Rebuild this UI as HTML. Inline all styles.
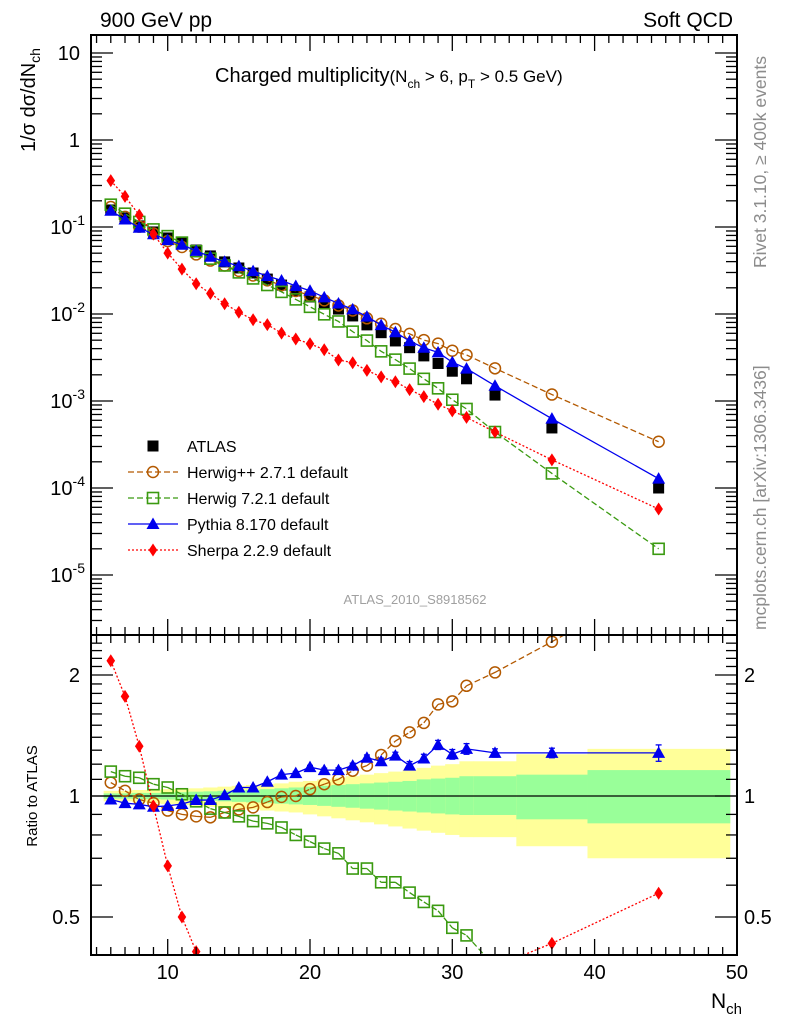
<!DOCTYPE html>
<html><head><meta charset="utf-8">
<style>
html,body{margin:0;padding:0;background:#fff;overflow:hidden;width:786px;height:1024px;}
svg{display:block;}
svg text{font-family:"Liberation Sans",sans-serif;}
</style></head>
<body>
<svg id="c" width="786" height="1024" viewBox="0 0 786 1024" xmlns="http://www.w3.org/2000/svg"></svg>
<script>
const nch=[6,7,8,9,10,11,12,13,14,15,16,17,18,19,20,21,22,23,24,25,26,27,28,29,30,31,33,37,44.5];
const binLo=[5.5,6.5,7.5,8.5,9.5,10.5,11.5,12.5,13.5,14.5,15.5,16.5,17.5,18.5,19.5,20.5,21.5,22.5,23.5,24.5,25.5,26.5,27.5,28.5,29.5,30.5,31.5,34.5,39.5];
const binHi=[6.5,7.5,8.5,9.5,10.5,11.5,12.5,13.5,14.5,15.5,16.5,17.5,18.5,19.5,20.5,21.5,22.5,23.5,24.5,25.5,26.5,27.5,28.5,29.5,30.5,31.5,34.5,39.5,49.5];
const atlas=[0.157,0.127,0.103,0.0877,0.0748,0.0655,0.0544,0.0465,0.0397,0.0338,0.0296,0.0252,0.0215,0.0184,0.0157,0.0134,0.0114,0.0095,0.0075,0.0061,0.0049,0.0041,0.0033,0.0027,0.0022,0.0018,0.00117,0.00049,0.0001];
const rHerwigPP=[1.08,1.03,0.98,0.96,0.92,0.90,0.89,0.885,0.91,0.926,0.937,0.966,0.995,1.0,1.04,1.07,1.10,1.156,1.19,1.265,1.37,1.44,1.52,1.69,1.72,1.88,2.03,2.42,3.4];
const rHerwig7=[1.15,1.12,1.11,1.07,1.05,1.01,0.97,0.93,0.91,0.89,0.866,0.855,0.835,0.80,0.77,0.74,0.72,0.66,0.66,0.61,0.61,0.575,0.545,0.518,0.47,0.45,0.376,0.30,0.2];
const rPythia=[0.98,0.96,0.953,0.94,0.945,0.955,0.977,0.977,1.005,1.05,1.05,1.085,1.13,1.14,1.18,1.16,1.16,1.19,1.245,1.22,1.26,1.19,1.24,1.34,1.27,1.31,1.28,1.28,1.28];
const rPythiaErr=[0.005,0.005,0.005,0.005,0.005,0.005,0.006,0.006,0.007,0.008,0.008,0.009,0.01,0.011,0.012,0.013,0.015,0.017,0.02,0.022,0.025,0.028,0.03,0.035,0.035,0.04,0.03,0.035,0.06];
const rSherpa=[2.17,1.77,1.33,0.944,0.67,0.50,0.41,0.37,0.33,0.31,0.29,0.30,0.28,0.28,0.29,0.29,0.26,0.29,0.30,0.31,0.34,0.33,0.34,0.34,0.35,0.36,0.376,0.43,0.573];
const yelUp=[1.03,1.03,1.035,1.035,1.04,1.04,1.045,1.05,1.055,1.06,1.065,1.07,1.075,1.085,1.09,1.10,1.11,1.12,1.13,1.14,1.15,1.16,1.175,1.19,1.20,1.22,1.22,1.27,1.31];
const yelDn=[0.97,0.97,0.965,0.96,0.955,0.95,0.945,0.94,0.935,0.93,0.925,0.92,0.915,0.91,0.90,0.89,0.88,0.87,0.86,0.85,0.84,0.83,0.82,0.81,0.80,0.79,0.79,0.75,0.70];
const grnUp=[1.015,1.015,1.018,1.018,1.02,1.022,1.025,1.027,1.03,1.033,1.036,1.04,1.045,1.05,1.055,1.06,1.065,1.07,1.075,1.08,1.085,1.09,1.10,1.105,1.11,1.12,1.12,1.13,1.16];
const grnDn=[0.985,0.985,0.982,0.982,0.98,0.978,0.975,0.973,0.97,0.967,0.964,0.96,0.957,0.953,0.95,0.945,0.94,0.935,0.93,0.925,0.92,0.915,0.91,0.905,0.90,0.897,0.897,0.875,0.855];
const xTicks=[10,20,30,40,50];
const yDecades=[1,0,-1,-2,-3,-4,-5];
const rTickLabels=[0.5,1,2];

const NS="http://www.w3.org/2000/svg";
const svg=document.getElementById('c');
const L=91,R=737,T=35,MB=635,RB=955;
const X=v=>167.7+(v-10)*14.23;
const Y=v=>227-(Math.log10(v)+1)*87;
const RY=r=>796-Math.log2(r)*121;
function el(tag,attrs,parent){const e=document.createElementNS(NS,tag);for(const k in attrs)e.setAttribute(k,attrs[k]);(parent||svg).appendChild(e);return e;}
function txt(s,x,y,size,anchor,fill,parent){const t=el('text',{x:x,y:y,'font-size':size,'text-anchor':anchor||'start',fill:fill||'#000'},parent);t.textContent=s;return t;}
// clip a polyline (array of [x,y]) to y-range [y0,y1]; returns path d
function clipPath(pts,y0,y1){
  let d='';
  for(let i=0;i<pts.length-1;i++){
    let [xa,ya]=pts[i],[xb,yb]=pts[i+1];
    let t0=0,t1=1;const dy=yb-ya;
    if(dy===0){if(ya<y0||ya>y1)continue;}
    else{
      let ta=(y0-ya)/dy,tb=(y1-ya)/dy;if(ta>tb)[ta,tb]=[tb,ta];
      t0=Math.max(t0,ta);t1=Math.min(t1,tb);if(t0>=t1)continue;
    }
    const x0=xa+(xb-xa)*t0,yy0=ya+dy*t0,x1=xa+(xb-xa)*t1,yy1=ya+dy*t1;
    d+=`M${x0.toFixed(2)},${yy0.toFixed(2)}L${x1.toFixed(2)},${yy1.toFixed(2)}`;
  }
  return d;
}

const defs=el('defs',{});
const cm=el('clipPath',{id:'cm'},defs);el('rect',{x:L,y:T,width:R-L,height:MB-T},cm);
const cr=el('clipPath',{id:'cr'},defs);el('rect',{x:L,y:MB,width:R-L,height:RB-MB},cr);

const gBand=el('g',{'clip-path':'url(#cr)'});


for(let i=0;i<nch.length;i++){
  const x1=X(binLo[i]),x2=X(binHi[i]);
  const b=el('rect',{x:x1,y:RY(yelUp[i]),width:x2-x1+0.5,height:RY(yelDn[i])-RY(yelUp[i]),fill:'#ffff99'},gBand);
  
  
  const g=el('rect',{x:x1,y:RY(grnUp[i]),width:x2-x1+0.5,height:RY(grnDn[i])-RY(grnUp[i]),fill:'#99ff99'},gBand);
  
  
}
el('line',{x1:L,x2:R,y1:RY(1),y2:RY(1),stroke:'#000','stroke-width':1.2});

function marker(type,x,y,color,parent){
  let m;
  if(type==='sq') m=el('rect',{x:x-5.5,y:y-5.5,width:11,height:11,fill:'#000'},parent);
  else if(type==='osq') m=el('rect',{x:x-5.5,y:y-5.5,width:11,height:11,fill:'none',stroke:color,'stroke-width':1.6},parent);
  else if(type==='circ') m=el('circle',{cx:x,cy:y,r:5.5,fill:'none',stroke:color,'stroke-width':1.5},parent);
  else if(type==='tri') m=el('polygon',{points:`${x},${y-6.5} ${x+6.5},${y+5} ${x-6.5},${y+5}`,fill:color},parent);
  else m=el('polygon',{points:`${x},${y-6.5} ${x+4.3},${y} ${x},${y+6.5} ${x-4.3},${y}`,fill:color},parent);
  return m;
}
const series=[
 {name:'herwigpp',r:rHerwigPP,color:'#b35900',dash:'6,3',type:'circ',label:'Herwig++ 2.7.1 default'},
 {name:'herwig7',r:rHerwig7,color:'#3a9a10',dash:'6,3',type:'osq',label:'Herwig 7.2.1 default'},
 {name:'pythia',r:rPythia,color:'#0000ee',dash:null,type:'tri',label:'Pythia 8.170 default'},
 {name:'sherpa',r:rSherpa,color:'#ff0000',dash:'2,2',type:'dia',label:'Sherpa 2.2.9 default'}
];
const gMain=el('g',{'clip-path':'url(#cm)'});


const gRat=el('g',{'clip-path':'url(#cr)'});



for(let i=0;i<nch.length;i++){
  const m=marker('sq',X(nch[i]),Y(atlas[i]),'#000',gMain);
  
  
}
series.forEach(s=>{
  const pm=[],pr=[];
  for(let i=0;i<nch.length;i++){pm.push(X(nch[i])+','+Y(atlas[i]*s.r[i]));pr.push([X(nch[i]),RY(s.r[i])]);}
  const a={points:pm.join(' '),fill:'none',stroke:s.color,'stroke-width':1.3};if(s.dash)a['stroke-dasharray']=s.dash;
  const l1=el('polyline',a,gMain);
  
  
  const b={d:clipPath(pr,MB,RB),fill:'none',stroke:s.color,'stroke-width':1.3};if(s.dash)b['stroke-dasharray']=s.dash;
  const l2=el('path',b,gRat);
  
  
  for(let i=0;i<nch.length;i++){
    const m=marker(s.type,X(nch[i]),Y(atlas[i]*s.r[i]),s.color,gMain);
    
    
    const ry=RY(s.r[i]);
    if(ry<MB-6||ry>RB+6)continue;
    if(s.name==='pythia'){
      const e=rPythiaErr[i];
      el('line',{x1:X(nch[i]),x2:X(nch[i]),y1:RY(s.r[i]+e),y2:RY(s.r[i]-e),stroke:s.color,'stroke-width':1.3},gRat);
      el('line',{x1:X(nch[i])-3,x2:X(nch[i])+3,y1:RY(s.r[i]+e),y2:RY(s.r[i]+e),stroke:s.color,'stroke-width':1.3},gRat);
      el('line',{x1:X(nch[i])-3,x2:X(nch[i])+3,y1:RY(s.r[i]-e),y2:RY(s.r[i]-e),stroke:s.color,'stroke-width':1.3},gRat);
    }
    const mr=marker(s.type,X(nch[i]),ry,s.color,gRat);
    
    
  }
});

const fr1=el('rect',{x:L,y:T,width:R-L,height:MB-T,fill:'none',stroke:'#000','stroke-width':2});

const fr2=el('rect',{x:L,y:MB,width:R-L,height:RB-MB,fill:'none',stroke:'#000','stroke-width':2});


const gT=el('g',{stroke:'#000','stroke-width':1.3});
for(let v=5;v<=50;v++){
  const x=X(v);const big=v%10===0;const len=big?16:8;
  [[T,1],[MB,-1],[MB,1],[RB,-1]].forEach(([y,d])=>{el('line',{x1:x,x2:x,y1:y,y2:y+d*len},gT);});
}
for(let d=-6;d<=1;d++){
  for(let k=1;k<10;k++){
    const v=k*Math.pow(10,d);const y=Y(v);if(y<T||y>MB)continue;
    const len=k===1?22:11;
    el('line',{x1:L,x2:L+len,y1:y,y2:y},gT);el('line',{x1:R,x2:R-len,y1:y,y2:y},gT);
  }
}
for(let r=0.4;r<=2.5;r+=0.1){
  const y=RY(r);if(y<MB||y>RB)continue;
  const big=Math.abs(r-0.5)<1e-6||Math.abs(r-1)<1e-6||Math.abs(r-2)<1e-6;
  const len=big?22:11;
  el('line',{x1:L,x2:L+len,y1:y,y2:y},gT);el('line',{x1:R,x2:R-len,y1:y,y2:y},gT);
}
xTicks.forEach(v=>{const t=txt(String(v),X(v),979,20,'middle');});
yDecades.forEach(d=>{
  const y=Y(Math.pow(10,d));
  let t;
  if(d===1)t=txt('10',80,y+7,20,'end');
  else if(d===0)t=txt('1',80,y+7,20,'end');
  else{
    t=el('text',{x:85,y:y+7,'font-size':20,'text-anchor':'end'});
    const a=el('tspan',{},t);a.textContent='10';
    const b=el('tspan',{dy:-9,'font-size':14},t);b.textContent=String(d);
  }
  
});
rTickLabels.forEach(r=>{
  const y=RY(r)+7;const s=r===0.5?'0.5':String(r);
  const t1=txt(s,80,y,20,'end');
  const t2=txt(s,744,y,20,'start');
});

const lg=el('g',{});

const ly0=446,ldy=26;
marker('sq',153,ly0,'#000',lg);
let t0=txt('ATLAS',187,ly0+6,16,'start','#000',lg);

series.forEach((s,i)=>{
  const y=ly0+ldy*(i+1);
  const a={x1:128,x2:178,y1:y,y2:y,stroke:s.color,'stroke-width':1.3};if(s.dash)a['stroke-dasharray']=s.dash;
  el('line',a,lg);
  marker(s.type,153,y,s.color,lg);
  const t=txt(s.label,187,y+6,16,'start','#000',lg);
  
});

function addHtml(markup){const g=el('g',{});g.innerHTML=markup;}
addHtml(`
<text x="100" y="27" font-size="21">900 GeV pp</text>
<text x="733" y="27" font-size="21" text-anchor="end">Soft QCD</text>
<text x="215" y="82" font-size="20">Charged multiplicity<tspan font-size="17">(N</tspan><tspan font-size="12" dy="6">ch</tspan><tspan font-size="17" dy="-6"> &gt; 6, p</tspan><tspan font-size="12" dy="6">T</tspan><tspan font-size="17" dy="-6"> &gt; 0.5 GeV)</tspan></text>
<text transform="translate(35,152) rotate(-90)" font-size="20">1/σ dσ/dN<tspan font-size="14" dy="5">ch</tspan></text>
<text transform="translate(37,796) rotate(-90)" font-size="15" text-anchor="middle">Ratio to ATLAS</text>
<text transform="translate(766,268) rotate(-90)" font-size="17.5" fill="#8c8c8c">Rivet 3.1.10, ≥ 400k events</text>
<text transform="translate(766,630) rotate(-90)" font-size="17.5" fill="#8c8c8c">mcplots.cern.ch [arXiv:1306.3436]</text>
<text x="415" y="604" font-size="13" text-anchor="middle" fill="#a0a0a0">ATLAS_2010_S8918562</text>
<text x="742" y="1008" font-size="21" text-anchor="end">N<tspan font-size="15" dy="6">ch</tspan></text>
`);
</script>
</body></html>
